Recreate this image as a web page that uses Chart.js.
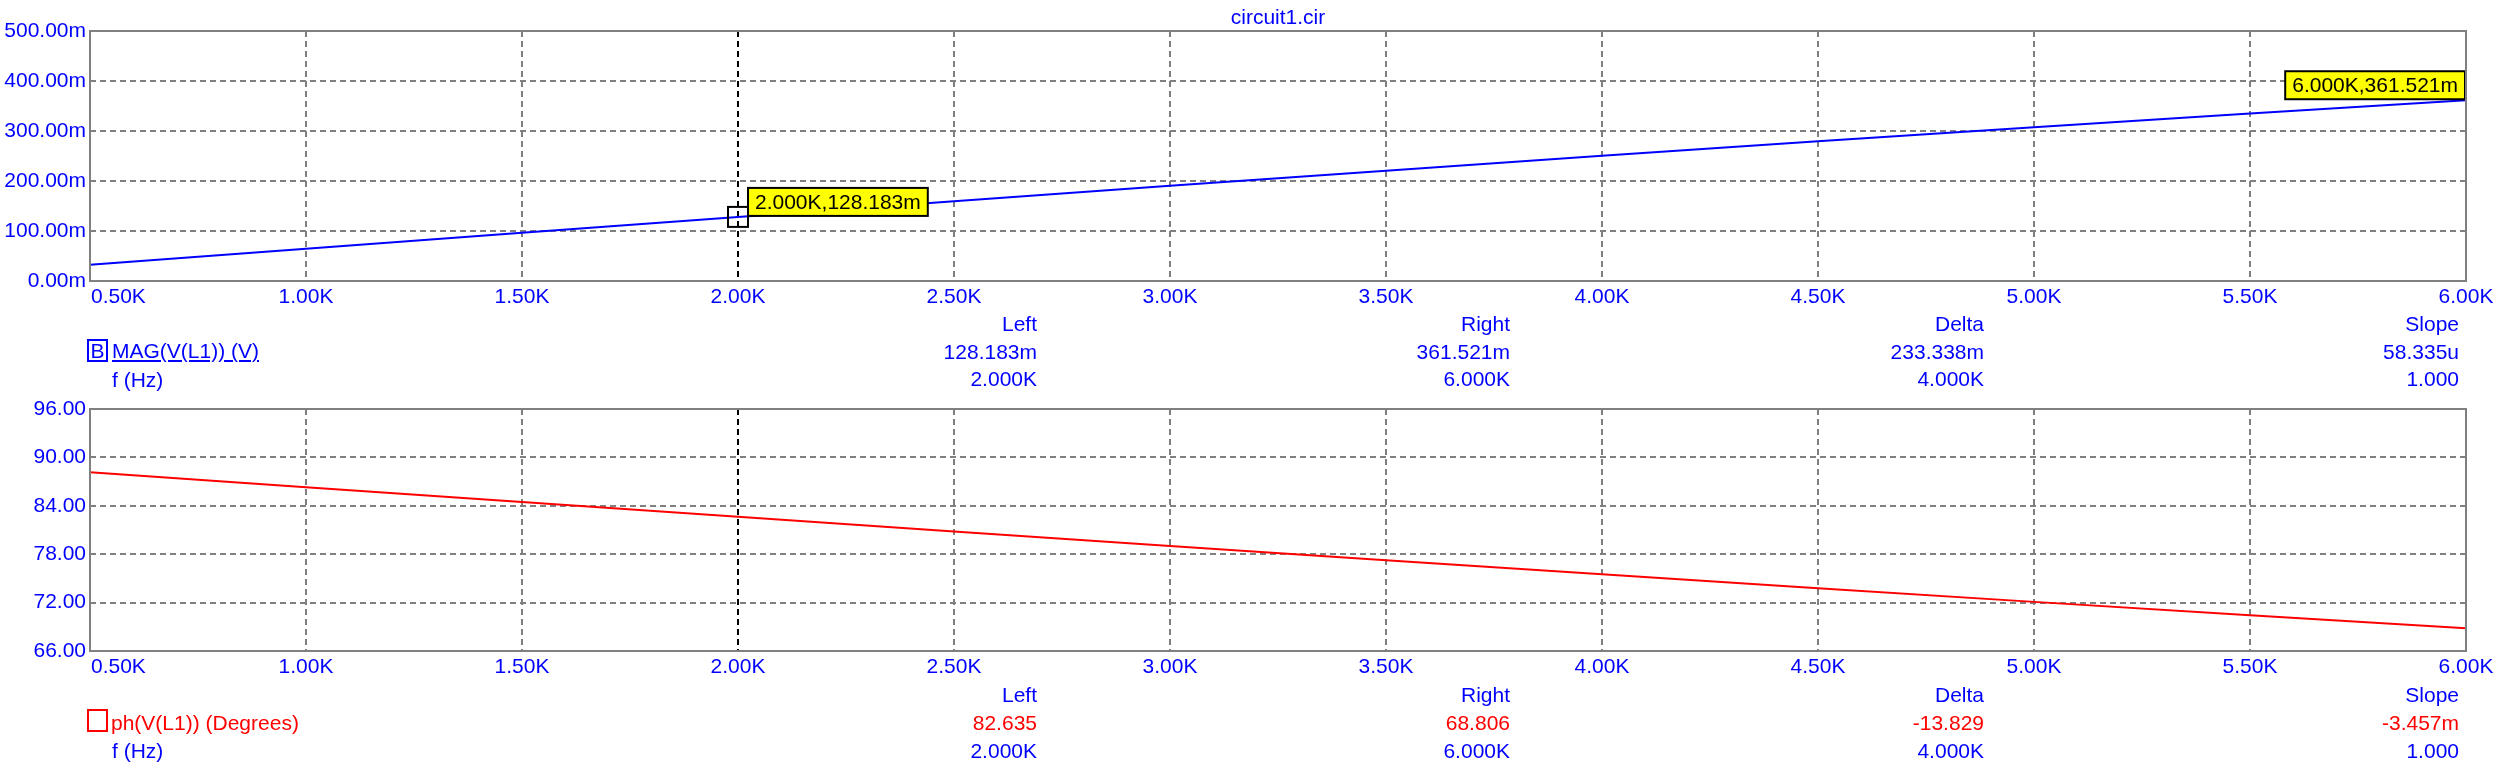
<!DOCTYPE html>
<html>
<head>
<meta charset="utf-8">
<script src="https://cdn.jsdelivr.net/npm/chart.js@4.4.0/dist/chart.umd.min.js"></script>
<style>
  html, body { margin: 0; padding: 0; background: #fff; }
  body { width: 2517px; height: 780px; position: relative; overflow: hidden;
         font-family: "Liberation Sans", Arial, sans-serif; font-size: 21px; }
  canvas { position: absolute; left: 0; top: 0; }
  .t { position: absolute; line-height: 24px; white-space: nowrap; color: #0000ff; }
  .red { color: #ff0000; }
  .box { position: absolute; width: 17px; height: 19px; line-height: 19px; text-align: center; }
</style>
</head>
<body>
<canvas id="magChart" width="2517" height="780"></canvas>
<canvas id="phChart" width="2517" height="780"></canvas>
<div id="texts"></div>
<script>
// frequency in kHz
const freqK = [0.5, 1.0, 1.5, 2.0, 2.5, 3.0, 3.5, 4.0, 4.5, 5.0, 5.5, 6.0];
// MAG(V(L1)) in mV
const magMilli = [32.3, 64.5, 96.5, 128.183, 159.6, 190.4, 220.7, 250.4, 279.4, 307.6, 335.1, 361.521];
// ph(V(L1)) in degrees
const phaseDeg = [88.15, 86.30, 84.46, 82.635, 80.82, 79.02, 77.25, 75.50, 73.78, 72.09, 70.42, 68.806];

// cursors
const cursorF = [2.0, 6.0];
const cursorLabels = ['2.000K,128.183m', '6.000K,361.521m'];

// readout tables
const readoutCols = ['Left', 'Right', 'Delta', 'Slope'];
const magReadout = ['128.183m', '361.521m', '233.338m', '58.335u'];
const phReadout = ['82.635', '68.806', '-13.829', '-3.457m'];
const freqReadout = ['2.000K', '6.000K', '4.000K', '1.000'];

const FONT = '"Liberation Sans", Arial, sans-serif';
const BLUE = '#0000ff';
const GRAY = '#808080';

function framePlugin(extra) {
  return {
    id: 'frame',
    afterDatasetsDraw(chart) {
      const { ctx, chartArea: a } = chart;
      const xs = chart.scales.x;
      ctx.save();
      if (extra) extra(chart);
      ctx.strokeStyle = GRAY;
      ctx.lineWidth = 2;
      ctx.setLineDash([]);
      ctx.strokeRect(a.left, a.top, a.right - a.left, a.bottom - a.top);
      // x tick labels, first one pushed inside the frame
      ctx.fillStyle = BLUE;
      ctx.font = '21px ' + FONT;
      ctx.textBaseline = 'middle';
      xs.ticks.forEach((t, i) => {
        const px = xs.getPixelForValue(t.value);
        ctx.textAlign = i === 0 ? 'left' : 'center';
        ctx.fillText(t.label, i === 0 ? px + 1 : px, a.bottom + 16);
      });
      ctx.restore();
    }
  };
}

function cursorTags(chart) {
  const { ctx, chartArea: a } = chart;
  const xs = chart.scales.x, ys = chart.scales.y;
  ctx.font = '21px ' + FONT;
  ctx.textBaseline = 'middle';
  ctx.textAlign = 'left';
  cursorF.forEach((f, i) => {
    const idx = freqK.indexOf(f);
    const px = xs.getPixelForValue(f);
    const py = ys.getPixelForValue(magMilli[idx]);
    const w = ctx.measureText(cursorLabels[i]).width + 14;
    const h = 28;
    let left;
    if (i === 0) {
      ctx.strokeStyle = '#000';
      ctx.lineWidth = 2;
      ctx.strokeRect(px - 10, py - 10, 20, 20);
      left = px + 10;
    } else {
      left = Math.min(px, a.right) - 1 - w;
    }
    const top = py - 1 - h;
    ctx.fillStyle = '#ffff00';
    ctx.fillRect(left, top, w, h);
    ctx.strokeStyle = '#000';
    ctx.lineWidth = 2;
    ctx.strokeRect(left, top, w, h);
    ctx.fillStyle = '#000';
    ctx.fillText(cursorLabels[i], left + 7, top + h / 2 + 1);
  });
}

function makeChart(id, values, color, yMin, yMax, yStep, yFmt, top, bottom, extra) {
  return new Chart(document.getElementById(id), {
    type: 'line',
    data: {
      datasets: [{
        data: freqK.map((f, i) => ({ x: f, y: values[i] })),
        borderColor: color,
        borderWidth: 2,
        pointRadius: 0,
        tension: 0,
        fill: false
      }]
    },
    options: {
      responsive: false,
      animation: false,
      events: [],
      layout: { padding: { top: top, right: 51, bottom: 780 - bottom, left: 0 } },
      plugins: { legend: { display: false }, tooltip: { enabled: false } },
      scales: {
        x: {
          type: 'linear',
          min: 0.5, max: 6.0,
          afterFit: s => { s.height = 0; },
          ticks: { stepSize: 0.5, display: false, callback: v => v.toFixed(2) + 'K' },
          grid: {
            drawTicks: false, lineWidth: 2,
            color: c => (c.tick && Math.abs(c.tick.value - cursorF[0]) < 1e-6) ? '#000' : GRAY
          },
          border: { display: false, dash: [6, 4] }
        },
        y: {
          min: yMin, max: yMax,
          afterFit: s => { s.width = 90; },
          ticks: { stepSize: yStep, color: BLUE, padding: 4, font: { family: FONT, size: 21 }, callback: yFmt },
          grid: { drawTicks: false, lineWidth: 2, color: GRAY },
          border: { display: false, dash: [6, 4] }
        }
      }
    },
    plugins: [framePlugin(extra)]
  });
}

makeChart('magChart', magMilli, '#0000ff', 0, 500, 100, v => v.toFixed(2) + 'm', 31, 281, cursorTags);
makeChart('phChart', phaseDeg, '#ff0000', 66, 96, 6, v => v.toFixed(2), 409, 651);

// text around the plots
const holder = document.getElementById('texts');
function addText(txt, x, cy, align, cls) {
  const d = document.createElement('div');
  d.className = 't' + (cls ? ' ' + cls : '');
  d.textContent = txt;
  d.style.top = (cy - 12) + 'px';
  if (align === 'right') d.style.right = (2517 - x) + 'px';
  else if (align === 'center') { d.style.left = (x - 200) + 'px'; d.style.width = '400px'; d.style.textAlign = 'center'; }
  else d.style.left = x + 'px';
  holder.appendChild(d);
  return d;
}

addText('circuit1.cir', 1278, 17, 'center');

const colRight = [1037, 1510, 1984, 2459];
readoutCols.forEach((c, i) => {
  addText(c, colRight[i], 324, 'right');
  addText(magReadout[i], colRight[i], 352, 'right');
  addText(freqReadout[i], colRight[i], 379, 'right');
  addText(c, colRight[i], 695, 'right');
  addText(phReadout[i], colRight[i], 723, 'right', 'red');
  addText(freqReadout[i], colRight[i], 751, 'right');
});

const bBox = document.createElement('div');
bBox.className = 'box';
bBox.style.cssText += 'left:87px;top:339px;border:2px solid #0000ff;color:#0000ff;';
bBox.textContent = 'B';
holder.appendChild(bBox);
addText('MAG(V(L1)) (V)', 112, 351).style.textDecoration = 'underline';
addText('f (Hz)', 112, 380);

const rBox = document.createElement('div');
rBox.className = 'box';
rBox.style.cssText += 'left:87px;top:709px;border:2px solid #ff0000;';
holder.appendChild(rBox);
addText('ph(V(L1)) (Degrees)', 111, 723, 'left', 'red');
addText('f (Hz)', 112, 751);
</script>
</body>
</html>
